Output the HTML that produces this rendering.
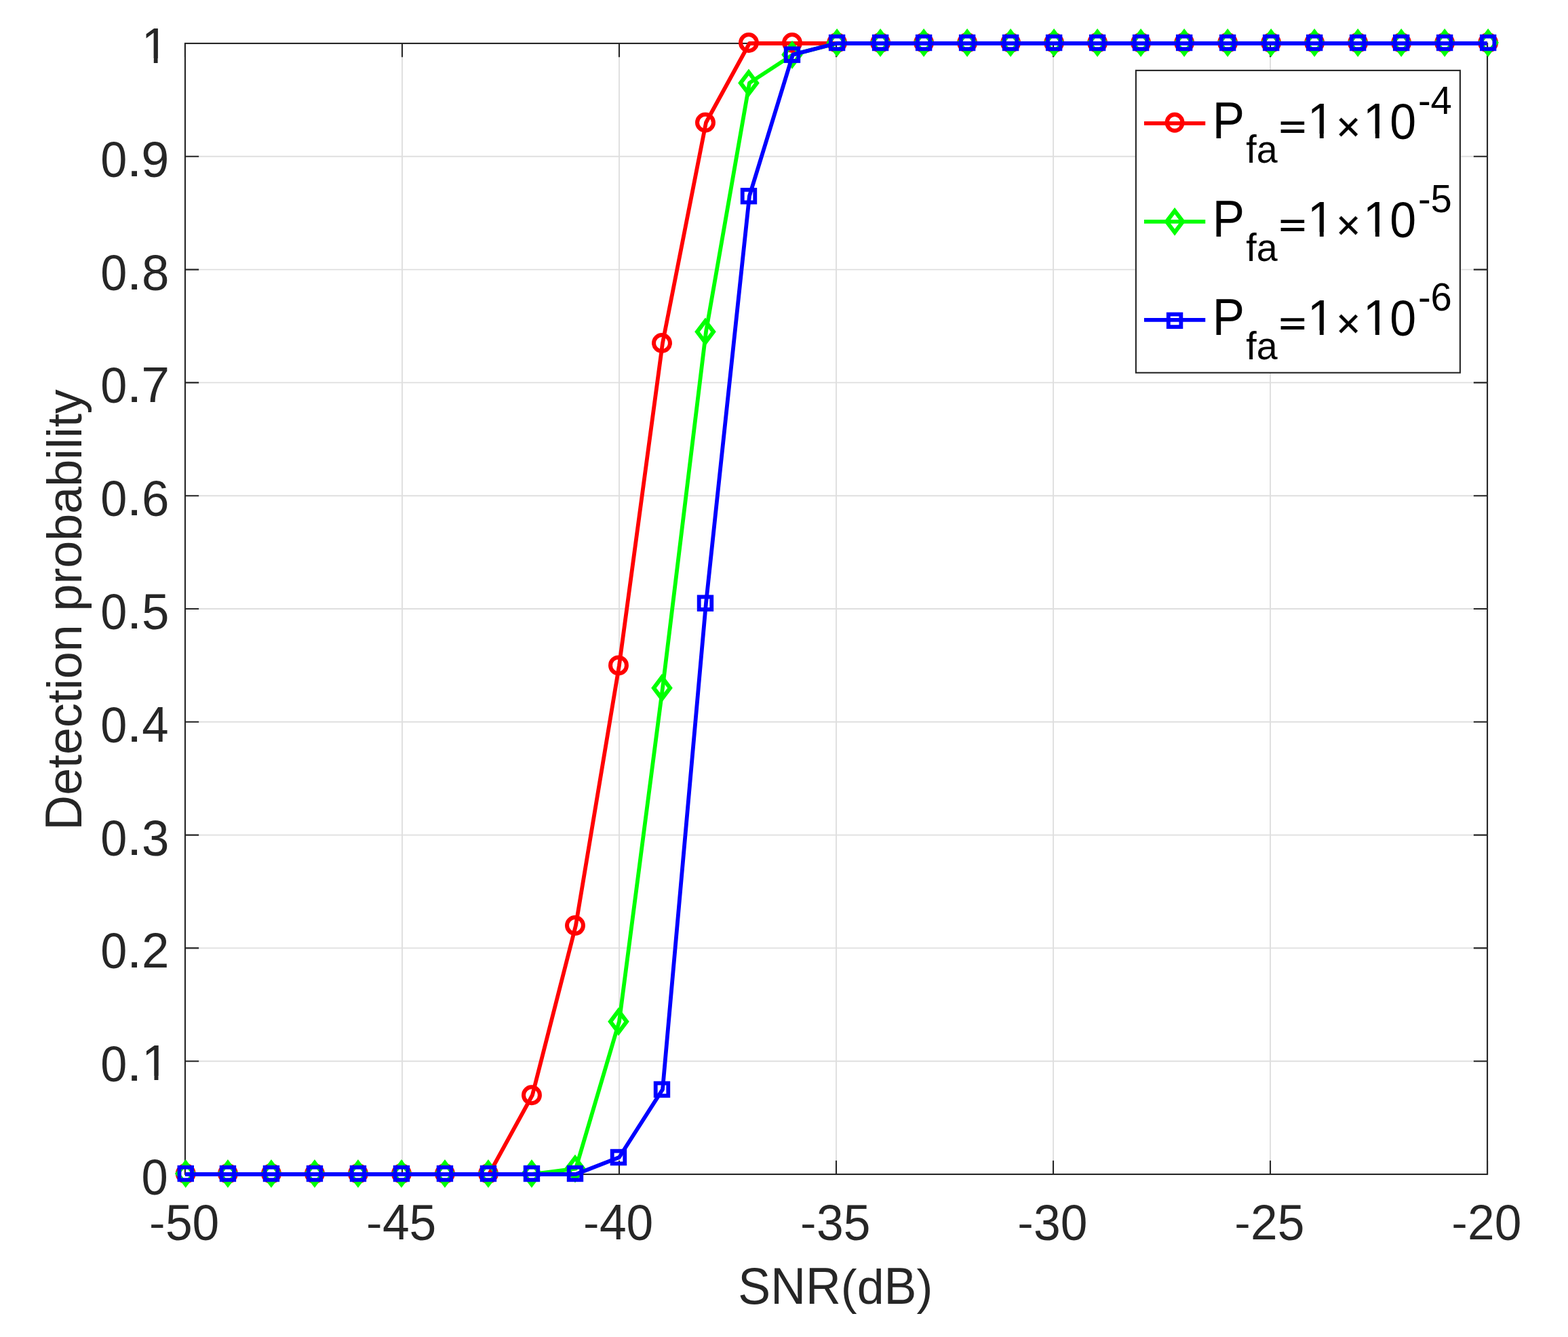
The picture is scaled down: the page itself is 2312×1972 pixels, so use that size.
<!DOCTYPE html>
<html lang="en"><head><meta charset="utf-8"><title>Detection probability versus SNR</title>
<style>html,body{margin:0;padding:0;background:#fff}body{width:2312px;height:1972px;overflow:hidden}svg{display:block}text{font-family:'Liberation Sans',Arial,Helvetica,sans-serif;font-kerning:none;white-space:pre}</style></head><body>
<svg width="2312" height="1972" viewBox="0 0 2312 1972">
<rect x="0" y="0" width="2312" height="1972" fill="#ffffff"/>
<path d="M592.97 64V1732M912.98 64V1732M1233 64V1732M1553.02 64V1732M1873.03 64V1732M272.95 1565.2H2193.05M272.95 1398.4H2193.05M272.95 1231.6H2193.05M272.95 1064.8H2193.05M272.95 898H2193.05M272.95 731.2H2193.05M272.95 564.4H2193.05M272.95 397.6H2193.05M272.95 230.8H2193.05" fill="none" stroke="#dfdfdf" stroke-width="1.9"/>
<path d="M272.95 1732v-20.2M272.95 64v20.2M592.97 1732v-20.2M592.97 64v20.2M912.98 1732v-20.2M912.98 64v20.2M1233 1732v-20.2M1233 64v20.2M1553.02 1732v-20.2M1553.02 64v20.2M1873.03 1732v-20.2M1873.03 64v20.2M2193.05 1732v-20.2M2193.05 64v20.2M272.95 1732h20.2M2193.05 1732h-20.2M272.95 1565.2h20.2M2193.05 1565.2h-20.2M272.95 1398.4h20.2M2193.05 1398.4h-20.2M272.95 1231.6h20.2M2193.05 1231.6h-20.2M272.95 1064.8h20.2M2193.05 1064.8h-20.2M272.95 898h20.2M2193.05 898h-20.2M272.95 731.2h20.2M2193.05 731.2h-20.2M272.95 564.4h20.2M2193.05 564.4h-20.2M272.95 397.6h20.2M2193.05 397.6h-20.2M272.95 230.8h20.2M2193.05 230.8h-20.2M272.95 64h20.2M2193.05 64h-20.2" fill="none" stroke="#262626" stroke-width="2.1"/>
<rect x="272.95" y="64" width="1920.1" height="1668" fill="none" stroke="#262626" stroke-width="2.1"/>
<g fill="#262626">
<text><tspan x="220.09" y="1824.95" font-size="60.2" textLength="23.53" lengthAdjust="spacingAndGlyphs">-</tspan><tspan x="243.88" y="1828.65" font-size="74.4" textLength="39.7" lengthAdjust="spacingAndGlyphs">5</tspan><tspan x="283.58" y="1828.65" font-size="74.4" textLength="39.7" lengthAdjust="spacingAndGlyphs">0</tspan></text>
<text><tspan x="540.1" y="1824.95" font-size="60.2" textLength="23.53" lengthAdjust="spacingAndGlyphs">-</tspan><tspan x="563.89" y="1827.71" font-size="74.2" textLength="39.7" lengthAdjust="spacingAndGlyphs">4</tspan><tspan x="603.59" y="1828.65" font-size="74.4" textLength="39.7" lengthAdjust="spacingAndGlyphs">5</tspan></text>
<text><tspan x="860.12" y="1824.95" font-size="60.2" textLength="23.53" lengthAdjust="spacingAndGlyphs">-</tspan><tspan x="883.91" y="1827.71" font-size="74.2" textLength="39.7" lengthAdjust="spacingAndGlyphs">4</tspan><tspan x="923.61" y="1828.65" font-size="74.4" textLength="39.7" lengthAdjust="spacingAndGlyphs">0</tspan></text>
<text><tspan x="1180.14" y="1824.95" font-size="60.2" textLength="23.53" lengthAdjust="spacingAndGlyphs">-</tspan><tspan x="1203.93" y="1828.65" font-size="74.4" textLength="39.7" lengthAdjust="spacingAndGlyphs">3</tspan><tspan x="1243.63" y="1828.65" font-size="74.4" textLength="39.7" lengthAdjust="spacingAndGlyphs">5</tspan></text>
<text><tspan x="1500.15" y="1824.95" font-size="60.2" textLength="23.53" lengthAdjust="spacingAndGlyphs">-</tspan><tspan x="1523.94" y="1828.65" font-size="74.4" textLength="39.7" lengthAdjust="spacingAndGlyphs">3</tspan><tspan x="1563.64" y="1828.65" font-size="74.4" textLength="39.7" lengthAdjust="spacingAndGlyphs">0</tspan></text>
<text><tspan x="1820.17" y="1824.95" font-size="60.2" textLength="23.53" lengthAdjust="spacingAndGlyphs">-</tspan><tspan x="1843.96" y="1827.71" font-size="73.05" textLength="39.7" lengthAdjust="spacingAndGlyphs">2</tspan><tspan x="1883.66" y="1828.65" font-size="74.4" textLength="39.7" lengthAdjust="spacingAndGlyphs">5</tspan></text>
<text><tspan x="2140.19" y="1824.95" font-size="60.2" textLength="23.53" lengthAdjust="spacingAndGlyphs">-</tspan><tspan x="2163.98" y="1827.71" font-size="73.05" textLength="39.7" lengthAdjust="spacingAndGlyphs">2</tspan><tspan x="2203.68" y="1828.65" font-size="74.4" textLength="39.7" lengthAdjust="spacingAndGlyphs">0</tspan></text>
<text x="208.56" y="1761.66" font-size="74.4" textLength="39.24" lengthAdjust="spacingAndGlyphs">0</text>
<text><tspan x="148.37" y="1595" font-size="74.4" textLength="39.08" lengthAdjust="spacingAndGlyphs">0</tspan><tspan x="186.79" y="1593.96" font-size="72.85" textLength="22.73" lengthAdjust="spacingAndGlyphs">.</tspan><tspan x="208.97" y="1593.25" font-size="73.4" textLength="40.43" lengthAdjust="spacingAndGlyphs">1</tspan></text>
<text><tspan x="148.37" y="1428" font-size="74.4" textLength="39.08" lengthAdjust="spacingAndGlyphs">0</tspan><tspan x="186.79" y="1426.96" font-size="72.85" textLength="22.73" lengthAdjust="spacingAndGlyphs">.</tspan><tspan x="208.97" y="1427.06" font-size="73.05" textLength="40.43" lengthAdjust="spacingAndGlyphs">2</tspan></text>
<text><tspan x="148.37" y="1262" font-size="74.4" textLength="39.08" lengthAdjust="spacingAndGlyphs">0</tspan><tspan x="186.79" y="1260.96" font-size="72.85" textLength="22.73" lengthAdjust="spacingAndGlyphs">.</tspan><tspan x="208.97" y="1262" font-size="74.4" textLength="40.43" lengthAdjust="spacingAndGlyphs">3</tspan></text>
<text><tspan x="148.37" y="1095" font-size="74.4" textLength="39.08" lengthAdjust="spacingAndGlyphs">0</tspan><tspan x="186.79" y="1093.96" font-size="72.85" textLength="22.73" lengthAdjust="spacingAndGlyphs">.</tspan><tspan x="209.32" y="1094.06" font-size="74.2" textLength="39.32" lengthAdjust="spacingAndGlyphs">4</tspan></text>
<text><tspan x="148.37" y="928" font-size="74.4" textLength="39.08" lengthAdjust="spacingAndGlyphs">0</tspan><tspan x="186.79" y="926.96" font-size="72.85" textLength="22.73" lengthAdjust="spacingAndGlyphs">.</tspan><tspan x="208.97" y="928" font-size="74.4" textLength="40.43" lengthAdjust="spacingAndGlyphs">5</tspan></text>
<text><tspan x="148.37" y="761" font-size="74.4" textLength="39.08" lengthAdjust="spacingAndGlyphs">0</tspan><tspan x="186.79" y="759.96" font-size="72.85" textLength="22.73" lengthAdjust="spacingAndGlyphs">.</tspan><tspan x="208.97" y="761" font-size="74.4" textLength="40.43" lengthAdjust="spacingAndGlyphs">6</tspan></text>
<text><tspan x="148.37" y="594" font-size="74.4" textLength="39.08" lengthAdjust="spacingAndGlyphs">0</tspan><tspan x="186.79" y="592.96" font-size="72.85" textLength="22.73" lengthAdjust="spacingAndGlyphs">.</tspan><tspan x="208.25" y="593.06" font-size="74.2" textLength="41.82" lengthAdjust="spacingAndGlyphs">7</tspan></text>
<text><tspan x="148.37" y="428" font-size="74.4" textLength="39.08" lengthAdjust="spacingAndGlyphs">0</tspan><tspan x="186.79" y="426.96" font-size="72.85" textLength="22.73" lengthAdjust="spacingAndGlyphs">.</tspan><tspan x="208.97" y="428" font-size="74.4" textLength="40.43" lengthAdjust="spacingAndGlyphs">8</tspan></text>
<text><tspan x="148.37" y="261" font-size="74.4" textLength="39.08" lengthAdjust="spacingAndGlyphs">0</tspan><tspan x="186.79" y="259.96" font-size="72.85" textLength="22.73" lengthAdjust="spacingAndGlyphs">.</tspan><tspan x="208.34" y="261" font-size="74.4" textLength="41.13" lengthAdjust="spacingAndGlyphs">9</tspan></text>
<text x="208.67" y="92.5" font-size="73.2" textLength="39.49" lengthAdjust="spacingAndGlyphs">1</text>
<text><tspan x="1088.27" y="1923.17" font-size="75.2" textLength="151.53" lengthAdjust="spacingAndGlyphs">SNR</tspan><tspan x="1239.8" y="1923.27" font-size="73.04" textLength="23.9" lengthAdjust="spacingAndGlyphs">(</tspan><tspan x="1263.7" y="1923.17" font-size="71.6" textLength="39.92" lengthAdjust="spacingAndGlyphs">d</tspan><tspan x="1303.62" y="1923.17" font-size="75.2" textLength="47.87" lengthAdjust="spacingAndGlyphs">B</tspan><tspan x="1351.49" y="1923.27" font-size="73.04" textLength="23.9" lengthAdjust="spacingAndGlyphs">)</tspan></text>
<text transform="translate(119.54 1224.69) rotate(-90)"><tspan x="0" y="0" font-size="75.5" textLength="51.84" lengthAdjust="spacingAndGlyphs">D</tspan><tspan x="51.84" y="0" font-size="73" textLength="598.61" lengthAdjust="spacingAndGlyphs">etection probability</tspan></text>
</g>
<g fill="none" stroke="#ff0000">
<polyline points="272.95,1732 336.95,1732 400.96,1732 464.96,1732 528.96,1732 592.97,1732 656.97,1732 720.97,1732 784.98,1615.24 848.98,1365.04 912.98,981.4 976.99,506.02 1040.99,180.76 1104.99,64 1169,64 1233,64 1297,64 1361.01,64 1425.01,64 1489.01,64 1553.02,64 1617.02,64 1681.02,64 1745.03,64 1809.03,64 1873.03,64 1937.04,64 2001.04,64 2065.04,64 2129.05,64 2193.05,64" stroke-width="5.8" stroke-linejoin="round"/>
<circle cx="273.75" cy="1731" r="11.95" stroke-width="6.05"/>
<circle cx="335.95" cy="1731" r="11.95" stroke-width="6.05"/>
<circle cx="399.96" cy="1731" r="11.95" stroke-width="6.05"/>
<circle cx="463.96" cy="1731" r="11.95" stroke-width="6.05"/>
<circle cx="527.96" cy="1731" r="11.95" stroke-width="6.05"/>
<circle cx="591.97" cy="1731" r="11.95" stroke-width="6.05"/>
<circle cx="655.97" cy="1731" r="11.95" stroke-width="6.05"/>
<circle cx="719.97" cy="1731" r="11.95" stroke-width="6.05"/>
<circle cx="783.98" cy="1615.24" r="11.95" stroke-width="6.05"/>
<circle cx="847.98" cy="1365.04" r="11.95" stroke-width="6.05"/>
<circle cx="911.98" cy="981.4" r="11.95" stroke-width="6.05"/>
<circle cx="975.99" cy="506.02" r="11.95" stroke-width="6.05"/>
<circle cx="1039.99" cy="180.76" r="11.95" stroke-width="6.05"/>
<circle cx="1103.99" cy="63" r="11.95" stroke-width="6.05"/>
<circle cx="1168" cy="63" r="11.95" stroke-width="6.05"/>
<circle cx="1234.1" cy="63" r="11.95" stroke-width="6.05"/>
<circle cx="1298.1" cy="63" r="11.95" stroke-width="6.05"/>
<circle cx="1362.11" cy="63" r="11.95" stroke-width="6.05"/>
<circle cx="1426.11" cy="63" r="11.95" stroke-width="6.05"/>
<circle cx="1490.11" cy="63" r="11.95" stroke-width="6.05"/>
<circle cx="1554.12" cy="63" r="11.95" stroke-width="6.05"/>
<circle cx="1618.12" cy="63" r="11.95" stroke-width="6.05"/>
<circle cx="1682.12" cy="63" r="11.95" stroke-width="6.05"/>
<circle cx="1746.13" cy="63" r="11.95" stroke-width="6.05"/>
<circle cx="1810.13" cy="63" r="11.95" stroke-width="6.05"/>
<circle cx="1874.13" cy="63" r="11.95" stroke-width="6.05"/>
<circle cx="1938.14" cy="63" r="11.95" stroke-width="6.05"/>
<circle cx="2002.14" cy="63" r="11.95" stroke-width="6.05"/>
<circle cx="2066.14" cy="63" r="11.95" stroke-width="6.05"/>
<circle cx="2130.15" cy="63" r="11.95" stroke-width="6.05"/>
<circle cx="2194.15" cy="63" r="11.95" stroke-width="6.05"/>
</g>
<g fill="none" stroke="#00ff00">
<polyline points="272.95,1732 336.95,1732 400.96,1732 464.96,1732 528.96,1732 592.97,1732 656.97,1732 720.97,1732 784.98,1732 848.98,1723.66 912.98,1506.82 976.99,1014.76 1040.99,489.34 1104.99,122.38 1169,80.68 1233,64 1297,64 1361.01,64 1425.01,64 1489.01,64 1553.02,64 1617.02,64 1681.02,64 1745.03,64 1809.03,64 1873.03,64 1937.04,64 2001.04,64 2065.04,64 2129.05,64 2193.05,64" stroke-width="5.8" stroke-linejoin="round"/>
<path d="M261.75 1731L273.75 1715.1L285.75 1731L273.75 1746.9Z" stroke-width="6.1"/>
<path d="M323.95 1731L335.95 1715.1L347.95 1731L335.95 1746.9Z" stroke-width="6.1"/>
<path d="M387.96 1731L399.96 1715.1L411.96 1731L399.96 1746.9Z" stroke-width="6.1"/>
<path d="M451.96 1731L463.96 1715.1L475.96 1731L463.96 1746.9Z" stroke-width="6.1"/>
<path d="M515.96 1731L527.96 1715.1L539.96 1731L527.96 1746.9Z" stroke-width="6.1"/>
<path d="M579.97 1731L591.97 1715.1L603.97 1731L591.97 1746.9Z" stroke-width="6.1"/>
<path d="M643.97 1731L655.97 1715.1L667.97 1731L655.97 1746.9Z" stroke-width="6.1"/>
<path d="M707.97 1731L719.97 1715.1L731.97 1731L719.97 1746.9Z" stroke-width="6.1"/>
<path d="M771.98 1731L783.98 1715.1L795.98 1731L783.98 1746.9Z" stroke-width="6.1"/>
<path d="M835.98 1723.66L847.98 1707.76L859.98 1723.66L847.98 1739.56Z" stroke-width="6.1"/>
<path d="M899.98 1506.82L911.98 1490.92L923.98 1506.82L911.98 1522.72Z" stroke-width="6.1"/>
<path d="M963.99 1014.76L975.99 998.86L987.99 1014.76L975.99 1030.66Z" stroke-width="6.1"/>
<path d="M1027.99 489.34L1039.99 473.44L1051.99 489.34L1039.99 505.24Z" stroke-width="6.1"/>
<path d="M1091.99 122.38L1103.99 106.48L1115.99 122.38L1103.99 138.28Z" stroke-width="6.1"/>
<path d="M1156 80.68L1168 64.78L1180 80.68L1168 96.58Z" stroke-width="6.1"/>
<path d="M1222.1 63L1234.1 47.1L1246.1 63L1234.1 78.9Z" stroke-width="6.1"/>
<path d="M1286.1 63L1298.1 47.1L1310.1 63L1298.1 78.9Z" stroke-width="6.1"/>
<path d="M1350.11 63L1362.11 47.1L1374.11 63L1362.11 78.9Z" stroke-width="6.1"/>
<path d="M1414.11 63L1426.11 47.1L1438.11 63L1426.11 78.9Z" stroke-width="6.1"/>
<path d="M1478.11 63L1490.11 47.1L1502.11 63L1490.11 78.9Z" stroke-width="6.1"/>
<path d="M1542.12 63L1554.12 47.1L1566.12 63L1554.12 78.9Z" stroke-width="6.1"/>
<path d="M1606.12 63L1618.12 47.1L1630.12 63L1618.12 78.9Z" stroke-width="6.1"/>
<path d="M1670.12 63L1682.12 47.1L1694.12 63L1682.12 78.9Z" stroke-width="6.1"/>
<path d="M1734.13 63L1746.13 47.1L1758.13 63L1746.13 78.9Z" stroke-width="6.1"/>
<path d="M1798.13 63L1810.13 47.1L1822.13 63L1810.13 78.9Z" stroke-width="6.1"/>
<path d="M1862.13 63L1874.13 47.1L1886.13 63L1874.13 78.9Z" stroke-width="6.1"/>
<path d="M1926.14 63L1938.14 47.1L1950.14 63L1938.14 78.9Z" stroke-width="6.1"/>
<path d="M1990.14 63L2002.14 47.1L2014.14 63L2002.14 78.9Z" stroke-width="6.1"/>
<path d="M2054.14 63L2066.14 47.1L2078.14 63L2066.14 78.9Z" stroke-width="6.1"/>
<path d="M2118.15 63L2130.15 47.1L2142.15 63L2130.15 78.9Z" stroke-width="6.1"/>
<path d="M2182.15 63L2194.15 47.1L2206.15 63L2194.15 78.9Z" stroke-width="6.1"/>
</g>
<g fill="none" stroke="#0000ff">
<polyline points="272.95,1732 336.95,1732 400.96,1732 464.96,1732 528.96,1732 592.97,1732 656.97,1732 720.97,1732 784.98,1732 848.98,1732 912.98,1706.98 976.99,1606.9 1040.99,889.66 1104.99,289.18 1169,80.68 1233,64 1297,64 1361.01,64 1425.01,64 1489.01,64 1553.02,64 1617.02,64 1681.02,64 1745.03,64 1809.03,64 1873.03,64 1937.04,64 2001.04,64 2065.04,64 2129.05,64 2193.05,64" stroke-width="5.8" stroke-linejoin="round"/>
<rect x="264.48" y="1721.72" width="18.55" height="18.55" stroke-width="5.85"/>
<rect x="326.68" y="1721.72" width="18.55" height="18.55" stroke-width="5.85"/>
<rect x="390.68" y="1721.72" width="18.55" height="18.55" stroke-width="5.85"/>
<rect x="454.69" y="1721.72" width="18.55" height="18.55" stroke-width="5.85"/>
<rect x="518.69" y="1721.72" width="18.55" height="18.55" stroke-width="5.85"/>
<rect x="582.69" y="1721.72" width="18.55" height="18.55" stroke-width="5.85"/>
<rect x="646.7" y="1721.72" width="18.55" height="18.55" stroke-width="5.85"/>
<rect x="710.7" y="1721.72" width="18.55" height="18.55" stroke-width="5.85"/>
<rect x="774.7" y="1721.72" width="18.55" height="18.55" stroke-width="5.85"/>
<rect x="838.71" y="1721.72" width="18.55" height="18.55" stroke-width="5.85"/>
<rect x="902.71" y="1697.7" width="18.55" height="18.55" stroke-width="5.85"/>
<rect x="966.71" y="1597.62" width="18.55" height="18.55" stroke-width="5.85"/>
<rect x="1030.71" y="880.38" width="18.55" height="18.55" stroke-width="5.85"/>
<rect x="1094.72" y="279.91" width="18.55" height="18.55" stroke-width="5.85"/>
<rect x="1158.72" y="71.41" width="18.55" height="18.55" stroke-width="5.85"/>
<rect x="1224.82" y="53.73" width="18.55" height="18.55" stroke-width="5.85"/>
<rect x="1288.83" y="53.73" width="18.55" height="18.55" stroke-width="5.85"/>
<rect x="1352.83" y="53.73" width="18.55" height="18.55" stroke-width="5.85"/>
<rect x="1416.83" y="53.73" width="18.55" height="18.55" stroke-width="5.85"/>
<rect x="1480.84" y="53.73" width="18.55" height="18.55" stroke-width="5.85"/>
<rect x="1544.84" y="53.73" width="18.55" height="18.55" stroke-width="5.85"/>
<rect x="1608.84" y="53.73" width="18.55" height="18.55" stroke-width="5.85"/>
<rect x="1672.85" y="53.73" width="18.55" height="18.55" stroke-width="5.85"/>
<rect x="1736.85" y="53.73" width="18.55" height="18.55" stroke-width="5.85"/>
<rect x="1800.86" y="53.73" width="18.55" height="18.55" stroke-width="5.85"/>
<rect x="1864.86" y="53.73" width="18.55" height="18.55" stroke-width="5.85"/>
<rect x="1928.86" y="53.73" width="18.55" height="18.55" stroke-width="5.85"/>
<rect x="1992.87" y="53.73" width="18.55" height="18.55" stroke-width="5.85"/>
<rect x="2056.87" y="53.73" width="18.55" height="18.55" stroke-width="5.85"/>
<rect x="2120.87" y="53.73" width="18.55" height="18.55" stroke-width="5.85"/>
<rect x="2184.88" y="53.73" width="18.55" height="18.55" stroke-width="5.85"/>
</g>
<rect x="1674.9" y="103.9" width="478" height="445.85" fill="#ffffff" stroke="#262626" stroke-width="2.1"/>
<g fill="none" stroke="#ff0000"><path d="M1687 181.85H1777.26" stroke-width="5.75"/><ellipse cx="1732.1" cy="180.8" rx="11.4" ry="11.95" stroke-width="6.05"/></g>
<text fill="#000000"><tspan x="1787.78" y="203.6" font-size="75.8" textLength="47.32" lengthAdjust="spacingAndGlyphs">P</tspan><tspan x="1837.3" y="239.7" font-size="57.7" textLength="46.37" lengthAdjust="spacingAndGlyphs">fa</tspan><tspan x="1882.64" y="206.3" font-size="59" textLength="46.32" lengthAdjust="spacingAndGlyphs" font-family="'DejaVu Sans',sans-serif">=</tspan><tspan x="1927.77" y="203.7" font-size="73.6" textLength="39.49" lengthAdjust="spacingAndGlyphs">1</tspan><tspan x="1970.2" y="207.8" font-size="61.3" textLength="35.8" lengthAdjust="spacingAndGlyphs" stroke="#000000" stroke-width="0.4">×</tspan><tspan x="2009.85" y="203.7" font-size="73.6" textLength="39.49" lengthAdjust="spacingAndGlyphs">1</tspan><tspan x="2049.37" y="204.75" font-size="74.2" textLength="38.88" lengthAdjust="spacingAndGlyphs">0</tspan><tspan x="2090.91" y="167.5" font-size="56.66" textLength="49.97" lengthAdjust="spacingAndGlyphs">-4</tspan></text>
<g fill="none" stroke="#00ff00"><path d="M1687 326.9H1777.26" stroke-width="5.75"/><path d="M1720.1 326.85L1732.1 310.95L1744.1 326.85L1732.1 342.75Z" stroke-width="6.1"/></g>
<text fill="#000000"><tspan x="1787.78" y="348.65" font-size="75.8" textLength="47.32" lengthAdjust="spacingAndGlyphs">P</tspan><tspan x="1837.3" y="384.75" font-size="57.7" textLength="46.37" lengthAdjust="spacingAndGlyphs">fa</tspan><tspan x="1882.64" y="351.35" font-size="59" textLength="46.32" lengthAdjust="spacingAndGlyphs" font-family="'DejaVu Sans',sans-serif">=</tspan><tspan x="1927.77" y="348.75" font-size="73.6" textLength="39.49" lengthAdjust="spacingAndGlyphs">1</tspan><tspan x="1970.2" y="352.85" font-size="61.3" textLength="35.8" lengthAdjust="spacingAndGlyphs" stroke="#000000" stroke-width="0.4">×</tspan><tspan x="2009.85" y="348.75" font-size="73.6" textLength="39.49" lengthAdjust="spacingAndGlyphs">1</tspan><tspan x="2049.37" y="349.8" font-size="74.2" textLength="38.88" lengthAdjust="spacingAndGlyphs">0</tspan><tspan x="2090.91" y="312.55" font-size="56.66" textLength="49.97" lengthAdjust="spacingAndGlyphs">-5</tspan></text>
<g fill="none" stroke="#0000ff"><path d="M1687 471.9H1777.26" stroke-width="5.75"/><rect x="1722.82" y="463.57" width="18.55" height="18.55" stroke-width="5.85"/></g>
<text fill="#000000"><tspan x="1787.78" y="493.65" font-size="75.8" textLength="47.32" lengthAdjust="spacingAndGlyphs">P</tspan><tspan x="1837.3" y="529.75" font-size="57.7" textLength="46.37" lengthAdjust="spacingAndGlyphs">fa</tspan><tspan x="1882.64" y="496.35" font-size="59" textLength="46.32" lengthAdjust="spacingAndGlyphs" font-family="'DejaVu Sans',sans-serif">=</tspan><tspan x="1927.77" y="493.75" font-size="73.6" textLength="39.49" lengthAdjust="spacingAndGlyphs">1</tspan><tspan x="1970.2" y="497.85" font-size="61.3" textLength="35.8" lengthAdjust="spacingAndGlyphs" stroke="#000000" stroke-width="0.4">×</tspan><tspan x="2009.85" y="493.75" font-size="73.6" textLength="39.49" lengthAdjust="spacingAndGlyphs">1</tspan><tspan x="2049.37" y="494.8" font-size="74.2" textLength="38.88" lengthAdjust="spacingAndGlyphs">0</tspan><tspan x="2090.91" y="457.55" font-size="56.66" textLength="49.97" lengthAdjust="spacingAndGlyphs">-6</tspan></text>
<g fill="#ffffff"><rect x="213.31" y="1586.87" width="14.16" height="7.68"/><rect x="233.45" y="1586.87" width="13.6" height="7.68"/><rect x="212.88" y="86.13" width="13.87" height="7.67"/><rect x="232.58" y="86.13" width="13.31" height="7.67"/><rect x="1931.98" y="197.3" width="13.87" height="7.7"/><rect x="1951.68" y="197.3" width="13.31" height="7.7"/><rect x="2014.06" y="197.3" width="13.87" height="7.7"/><rect x="2033.76" y="197.3" width="13.31" height="7.7"/><rect x="1931.98" y="342.35" width="13.87" height="7.7"/><rect x="1951.68" y="342.35" width="13.31" height="7.7"/><rect x="2014.06" y="342.35" width="13.87" height="7.7"/><rect x="2033.76" y="342.35" width="13.31" height="7.7"/><rect x="1931.98" y="487.35" width="13.87" height="7.7"/><rect x="1951.68" y="487.35" width="13.31" height="7.7"/><rect x="2014.06" y="487.35" width="13.87" height="7.7"/><rect x="2033.76" y="487.35" width="13.31" height="7.7"/></g>
</svg></body></html>
